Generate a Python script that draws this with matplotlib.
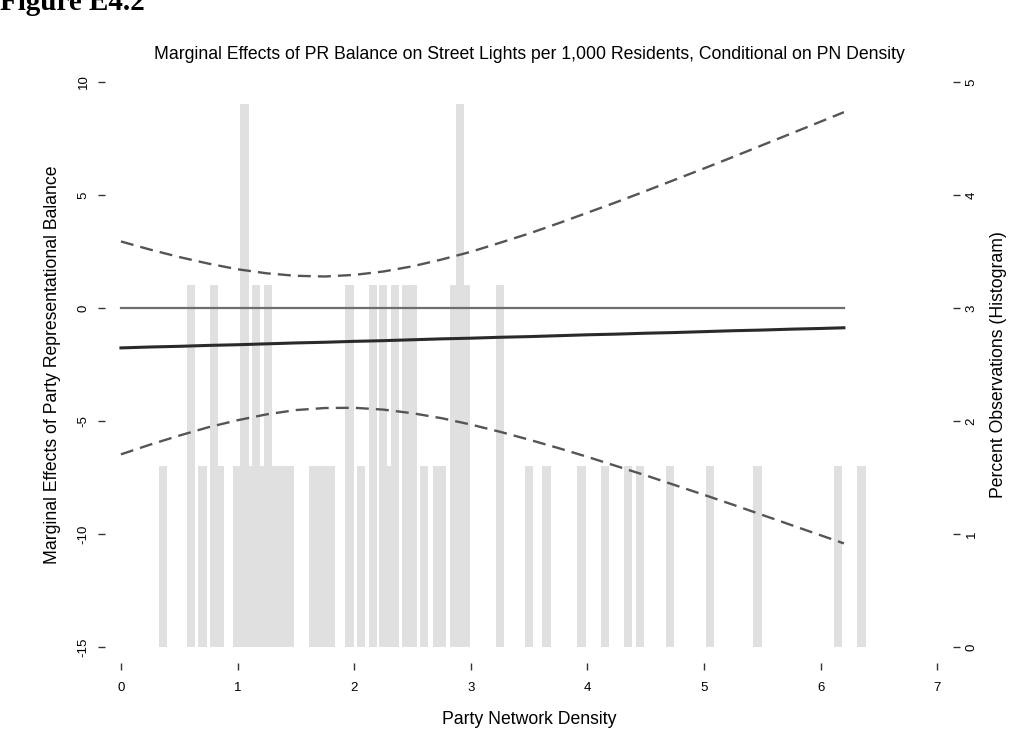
"""Marginal effect of PR balance on street lights, conditional on party network density."""

import matplotlib

matplotlib.use("Agg")

import matplotlib.pyplot as plt

plt.rcParams["font.family"] = ["Liberation Sans", "DejaVu Sans"]
plt.rcParams["axes.unicode_minus"] = False

# Party network density grid and the estimated marginal effect with its 95% band
density = [0.0, 0.25, 0.5, 0.75, 1.0, 1.25, 1.5, 1.75, 2.0, 2.25, 2.5, 2.75, 3.0,
           3.25, 3.5, 3.75, 4.0, 4.25, 4.5, 4.75, 5.0, 5.25, 5.5, 5.75, 6.0, 6.2]
effect = [-1.77, -1.73, -1.70, -1.66, -1.63, -1.59, -1.55, -1.52, -1.48, -1.45, -1.41, -1.37, -1.34,
          -1.30, -1.27, -1.23, -1.19, -1.16, -1.12, -1.09, -1.05, -1.01, -0.98, -0.94, -0.91, -0.88]
upper = [2.94, 2.58, 2.25, 1.96, 1.71, 1.53, 1.42, 1.39, 1.46, 1.61, 1.84, 2.14, 2.48,
         2.88, 3.29, 3.74, 4.21, 4.68, 5.17, 5.67, 6.17, 6.68, 7.20, 7.72, 8.24, 8.66]
lower = [-6.48, -6.05, -5.65, -5.28, -4.97, -4.71, -4.52, -4.43, -4.42, -4.50, -4.66, -4.88, -5.16,
         -5.48, -5.83, -6.20, -6.59, -7.00, -7.41, -7.84, -8.27, -8.71, -9.16, -9.61, -10.06, -10.42]

# Histogram of observed densities (percent of observations at each value)
hist_density = [0.36, 0.60, 0.70, 0.80, 0.85, 1.00, 1.06, 1.11, 1.16, 1.21, 1.26, 1.31, 1.38, 1.45,
                1.65, 1.73, 1.80, 1.96, 2.06, 2.16, 2.25, 2.30, 2.35, 2.45, 2.50, 2.60, 2.71, 2.75,
                2.86, 2.91, 2.96, 3.25, 3.50, 3.65, 3.95, 4.15, 4.35, 4.45, 4.71, 5.05, 5.46, 6.15, 6.35]
hist_pct = [1.6, 3.2, 1.6, 3.2, 1.6, 1.6, 4.8, 1.6, 3.2, 1.6, 3.2, 1.6, 1.6, 1.6,
            1.6, 1.6, 1.6, 3.2, 1.6, 3.2, 3.2, 1.6, 3.2, 3.2, 3.2, 1.6, 1.6, 1.6,
            3.2, 4.8, 3.2, 3.2, 1.6, 1.6, 1.6, 1.6, 1.6, 1.6, 1.6, 1.6, 1.6, 1.6, 1.6]

x_ticks = [0, 1, 2, 3, 4, 5, 6, 7]
y_ticks = [-15, -10, -5, 0, 5, 10]
pct_ticks = [0, 1, 2, 3, 4, 5]

fig = plt.figure(figsize=(10.29, 7.55), dpi=100)
ax = fig.add_axes([0.1020, 0.1219, 0.8243, 0.7909])
ax_hist = ax.twinx()

ax_hist.bar(hist_density, hist_pct, width=0.072, color="#e0e0e0", linewidth=0)
ax_hist.set_ylim(-0.142, 5.142)

ax.set_zorder(ax_hist.get_zorder() + 1)
ax.patch.set_visible(False)

ax.plot([density[0], density[-1]], [0, 0], color="#6e6e6e", linewidth=1.6)
ax.plot(density, effect, color="#2a2a2a", linewidth=2.2)
ax.plot(density, upper, color="#555555", linewidth=1.7, linestyle=(0, (5.5, 3)))
ax.plot(density, lower, color="#555555", linewidth=1.7, linestyle=(0, (5.5, 3)))

ax.set_xlim(-0.137, 7.137)
ax.set_ylim(-15.71, 10.71)

for a in (ax, ax_hist):
    for spine in a.spines.values():
        spine.set_visible(False)

ax.set_xticks(x_ticks)
ax.set_yticks(y_ticks)
ax_hist.set_yticks(pct_ticks)
ax.tick_params(axis="both", direction="out", length=5, width=1.0, color="#333333",
               labelsize=9.5, pad=6)
ax.tick_params(axis="x", pad=9)
ax.tick_params(axis="y", labelrotation=90)
for lbl in ax.get_yticklabels():
    lbl.set_verticalalignment("center")
ax_hist.tick_params(axis="y", direction="out", length=5, width=1.0, color="#333333",
                    labelsize=9.5, pad=4, labelrotation=90)
for lbl in ax_hist.get_yticklabels():
    lbl.set_verticalalignment("center")

ax.set_xlabel("Party Network Density", fontsize=12.7, labelpad=12)
ax.set_ylabel("Marginal Effects of Party Representational Balance", fontsize=12.7, labelpad=12)
ax_hist.set_ylabel("Percent Observations (Histogram)", fontsize=12.7, labelpad=9)
ax.set_title("Marginal Effects of PR Balance on Street Lights per 1,000 Residents, "
             "Conditional on PN Density", fontsize=12.7, pad=5)

fig.text(0.0, 0.9868, "Figure E4.2", fontsize=21, fontweight="bold",
         family="Liberation Serif", ha="left", va="baseline")

fig.savefig("out.png", dpi=100)
